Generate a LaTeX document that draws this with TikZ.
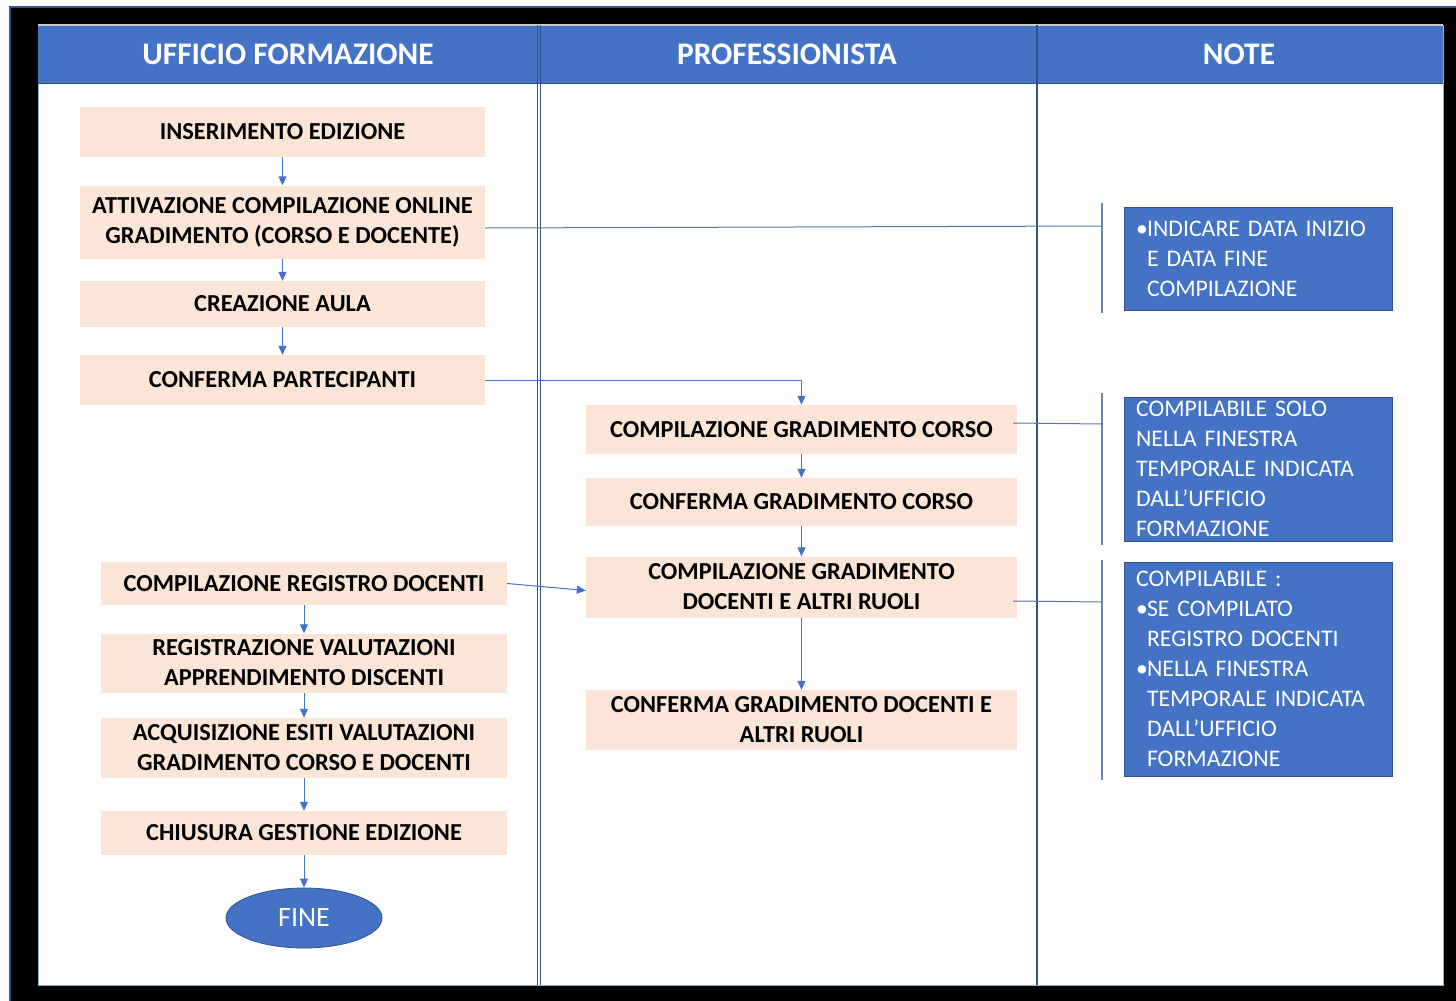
\documentclass[tikz,border=0pt]{standalone}
\usepackage{fontspec}
\setmainfont{Carlito}
\usetikzlibrary{arrows.meta,shapes.geometric}
\definecolor{peach}{HTML}{FBE5D6}
\definecolor{mblue}{HTML}{4472C4}
\definecolor{dblue}{HTML}{2F528F}
\begin{document}
\begin{tikzpicture}[x=1pt,y=-1pt,
  pbox/.style n args={2}{fill=peach, minimum width=#1, minimum height=#2, align=center, inner sep=0pt,
     font=\fontsize{24.4}{30}\selectfont\bfseries},
  note/.style={fill=mblue, draw=dblue, line width=1pt, minimum width=268pt, minimum height=#1,
     text width=244pt, align=left, inner sep=0pt, text=white, font=\fontsize{23.8}{30}\selectfont},
  hdr/.style={text=white, font=\fontsize{31.4}{34}\selectfont\bfseries},
  arr/.style={draw=mblue, line width=1pt, -{Triangle[length=9pt,width=8pt]}},
  link/.style={draw=dblue!80, line width=1pt},
  brk/.style={draw=dblue!70, line width=1.6pt}]
\useasboundingbox (0,0) rectangle (1456,1001);
\fill[white] (0,0) rectangle (1456,1001);
\fill[black] (10,7) rectangle (1456,1001);
\draw[dblue, line width=2pt] (10,1001) -- (10,7) -- (1456,7);
% panel
\fill[white] (38,25) rectangle (1443,985);
\draw[mblue!60, line width=1pt] (38,25) rectangle (1443,985);
\fill[mblue] (38,25) rectangle (1443,83);
\draw[dblue, line width=1pt] (38,83) -- (1443,83);
\draw[gray!40, line width=1.2pt] (38,25) -- (1443,25);
% dividers
\draw[dblue, line width=1pt] (537,25) -- (537,985);
\draw[dblue, line width=1pt] (540,25) -- (540,985);
\draw[dblue, line width=1.5pt] (1037,25) -- (1037,985);
% headers
\node[hdr] (h1) at (288,54) {UFFICIO FORMAZIONE};
\node[hdr] (h2) at (787,54) {PROFESSIONISTA};
\node[hdr] (h3) at (1239,54) {NOTE};
% left column
\node[pbox={405pt}{50pt}] (b1) at (282.5,132) {INSERIMENTO EDIZIONE};
\node[pbox={405pt}{73pt}] (b2) at (282.5,222) {ATTIVAZIONE COMPILAZIONE ONLINE\\GRADIMENTO (CORSO E DOCENTE)};
\node[pbox={405pt}{46pt}] (b3) at (282.5,304) {CREAZIONE AULA};
\node[pbox={405pt}{50pt}] (b4) at (282.5,380) {CONFERMA PARTECIPANTI};
\node[pbox={406pt}{43pt}] (b5) at (304,583.5) {COMPILAZIONE REGISTRO DOCENTI};
\node[pbox={406pt}{59pt}] (b6) at (304,663) {REGISTRAZIONE VALUTAZIONI\\APPRENDIMENTO DISCENTI};
\node[pbox={406pt}{60pt}] (b7) at (304,748) {ACQUISIZIONE ESITI VALUTAZIONI\\GRADIMENTO CORSO E DOCENTI};
\node[pbox={406pt}{44pt}] (b8) at (304,833) {CHIUSURA GESTIONE EDIZIONE};
\node[ellipse, fill=mblue, draw=dblue, line width=0.8pt, minimum width=156pt, minimum height=60pt, inner sep=0pt,
  text=white, font=\fontsize{28}{30}\selectfont] (fine) at (304,918) {FINE};
% middle column
\node[pbox={431pt}{49pt}] (m1) at (801.5,429.5) {COMPILAZIONE GRADIMENTO CORSO};
\node[pbox={431pt}{48pt}] (m2) at (801.5,502) {CONFERMA GRADIMENTO CORSO};
\node[pbox={431pt}{61pt}] (m3) at (801.5,587) {COMPILAZIONE GRADIMENTO\\DOCENTI E ALTRI RUOLI};
\node[pbox={431pt}{60pt}] (m4) at (801.5,720) {CONFERMA GRADIMENTO DOCENTI E\\ALTRI RUOLI};
% notes
\node[note=103pt] (n1) at (1258,258.5) {\makebox[11pt][l]{\textbullet}INDICARE DATA INIZIO\\\hspace*{11pt}E DATA FINE\\\hspace*{11pt}COMPILAZIONE};
\node[note=144pt] (n2) at (1258,469) {COMPILABILE SOLO\\NELLA FINESTRA\\TEMPORALE INDICATA\\DALL’UFFICIO\\FORMAZIONE};
\node[note=214pt] (n3) at (1258,669) {COMPILABILE :\\\makebox[11pt][l]{\textbullet}SE COMPILATO\\\hspace*{11pt}REGISTRO DOCENTI\\\makebox[11pt][l]{\textbullet}NELLA FINESTRA\\\hspace*{11pt}TEMPORALE INDICATA\\\hspace*{11pt}DALL’UFFICIO\\\hspace*{11pt}FORMAZIONE};
% brackets
\coordinate (k1a) at (1102,203); \coordinate (k1b) at (1102,313);
\coordinate (k2a) at (1102,393); \coordinate (k2b) at (1102,545);
\coordinate (k3a) at (1102,560); \coordinate (k3b) at (1102,780);
\draw[brk] (k1a) -- (k1b);
\draw[brk] (k2a) -- (k2b);
\draw[brk] (k3a) -- (k3b);
\coordinate (t1) at (1102,226);
\coordinate (t2) at (1102,424);
\coordinate (t3) at (1102,602);
% connectors
\draw[arr] (b1) -- (b2);
\draw[arr] (b2) -- (b3);
\draw[arr] (b3) -- (b4);
\draw[arr] (b5) -- (b6);
\draw[arr] (b6) -- (b7);
\draw[arr] (b7) -- (b8);
\draw[arr] (b8) -- (fine);
\draw[arr] (m1) -- (m2);
\draw[arr] (m2) -- (m3);
\draw[arr] (m3) -- (m4);
\draw[arr] (b4.east) -| (m1.north);
\draw[arr] (b5.east) -- ([yshift=-3.5pt]m3.west);
\draw[link] ([yshift=-6pt]b2.east) -- (t1);
\draw[link] ([xshift=-4pt,yshift=6.5pt]m1.east) -- (t2);
\draw[link] ([xshift=-4pt,yshift=-14pt]m3.east) -- (t3);
\end{tikzpicture}
\end{document}
